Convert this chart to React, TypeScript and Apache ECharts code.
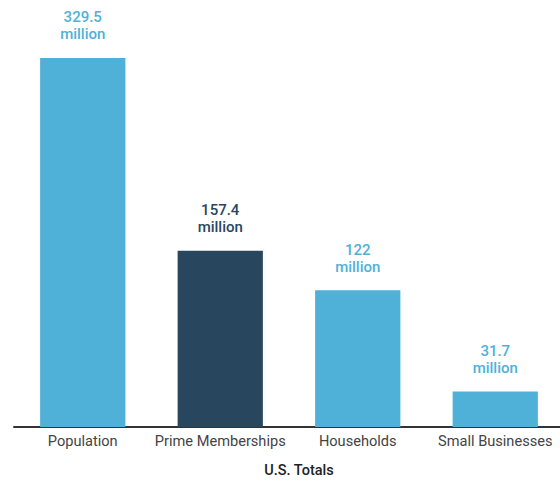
import React, { useEffect, useRef } from "react";
import * as echarts from "echarts";

const categories = ["Population", "Prime Memberships", "Households", "Small Businesses"];
const values = [329.5, 157.4, 122, 31.7];
const valueLabels = ["329.5", "157.4", "122", "31.7"];
const barColors = ["#4fb1d7", "#28475f", "#4fb1d7", "#4fb1d7"];

export default function App() {
  const ref = useRef<HTMLDivElement>(null);
  useEffect(() => {
    document.body.style.margin = "0";
    const chart = echarts.init(ref.current!, null, { renderer: "svg" });
    chart.setOption({
      animation: false,
      textStyle: { fontFamily: "Roboto" },
      grid: { left: 14, width: 550, top: 35, bottom: 55, containLabel: false },
      xAxis: {
        type: "category",
        data: categories,
        name: "U.S. Totals",
        nameLocation: "middle",
        nameGap: 36,
        nameTextStyle: {
          fontSize: 14.5,
          fontWeight: 500,
          color: "#222",
          fontFamily: "Roboto",
          padding: [0, 0, 0, 20],
        },
        axisLine: { lineStyle: { color: "#333", width: 2 } },
        axisTick: { show: false },
        axisLabel: { fontSize: 14.6, color: "#444", margin: 6, interval: 0, fontFamily: "Roboto" },
      },
      yAxis: {
        type: "value",
        min: 0,
        max: 350,
        show: false,
        splitLine: { show: false },
      },
      series: [
        {
          type: "bar",
          barWidth: "62%",
          data: values.map((v, i) => ({
            value: v,
            itemStyle: { color: barColors[i] },
            label: {
              show: true,
              position: "top",
              distance: 15,
              formatter: valueLabels[i] + "\nmillion",
              color: barColors[i],
              fontSize: 15,
              fontWeight: 500,
              lineHeight: 17,
              fontFamily: "Roboto",
            },
          })),
        },
      ],
    });
    return () => chart.dispose();
  }, []);
  return (
    <div style={{ width: 560, height: 483, overflow: "hidden" }}>
      <div ref={ref} style={{ width: 580, height: 483 }} />
    </div>
  );
}
